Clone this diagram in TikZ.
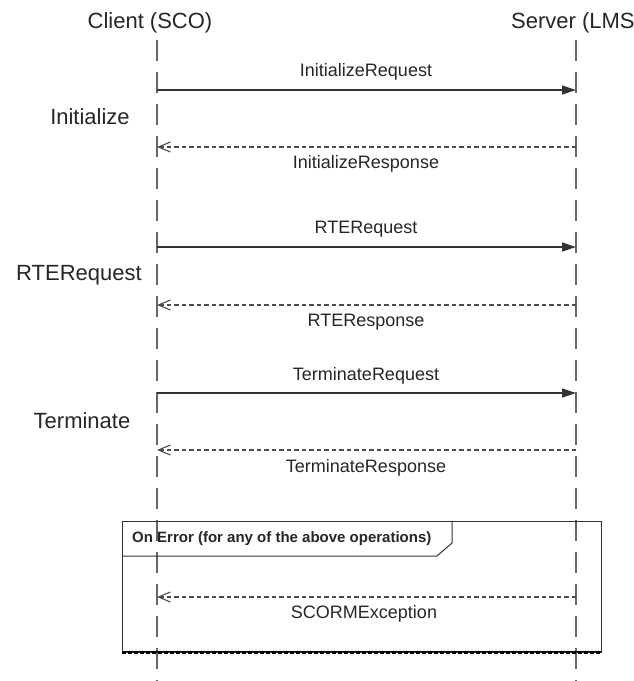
\documentclass[tikz,border=0pt]{standalone}
\usepackage{fontspec}
\setmainfont{Liberation Sans}
\usetikzlibrary{arrows.meta}
\begin{document}
\begin{tikzpicture}[x=1pt,y=-1pt,
  lifeline/.style={draw=black!60, line width=1.4pt, dash pattern=on 21pt off 11pt},
  req/.style={draw=black!80, line width=1.3pt, -{Triangle[length=14pt,width=9pt]}},
  resp/.style={draw=black!70, line width=1.1pt, dash pattern=on 4.5pt off 3pt,
     -{Straight Barb[length=12pt,width=10pt,line width=1.1pt]}},
  title/.style={inner sep=0pt, anchor=base, font=\fontsize{22}{26}\selectfont, text=black!85},
  side/.style={inner sep=0pt, font=\fontsize{22}{26}\selectfont, text=black!85},
  msg/.style={inner sep=0pt, font=\fontsize{18}{21}\selectfont, text=black!85},
  frame/.style={draw=black!80, line width=1pt},
  fragtitle/.style={inner sep=0pt, anchor=west, font=\bfseries\fontsize{15}{18}\selectfont, text=black!85}
]
\useasboundingbox (0,0) rectangle (633,681);
\clip (0,0) rectangle (633,681);

% participants
\node[title] (tclient) at (150,28) {Client (SCO)};
\node[title, anchor=base west] (tserver) at (511,28) {Server (LMS};

\coordinate (ctop) at (157,40);
\coordinate (cbot) at (157,681);
\coordinate (stop) at (576,40);
\coordinate (sbot) at (576,681);
\draw[lifeline] (ctop) -- (cbot);
\draw[lifeline] (stop) -- (sbot);

% message endpoints
\coordinate (c1) at (157,90);  \coordinate (s1) at (576,90);
\coordinate (c2) at (157,147); \coordinate (s2) at (576,147);
\coordinate (c3) at (157,247); \coordinate (s3) at (576,247);
\coordinate (c4) at (157,305); \coordinate (s4) at (576,305);
\coordinate (c5) at (157,393); \coordinate (s5) at (576,393);
\coordinate (c6) at (157,450); \coordinate (s6) at (576,450);
\coordinate (c7) at (157,597); \coordinate (s7) at (576,597);

\draw[req] (c1) -- (s1);
\draw[resp] (s2) -- (c2);
\draw[req] (c3) -- (s3);
\draw[resp] (s4) -- (c4);
\draw[req] (c5) -- (s5);
\draw[resp] (s6) -- (c6);
\draw[resp] (s7) -- (c7);

\node[msg] (l1) at (366,72) {InitializeRequest};
\node[msg] (l2) at (366,164) {InitializeResponse};
\node[msg] (l3) at (366,229) {RTERequest};
\node[msg] (l4) at (366,322) {RTEResponse};
\node[msg] (l5) at (366,376) {TerminateRequest};
\node[msg] (l6) at (366,468) {TerminateResponse};
\node[msg] (l7) at (364,614) {SCORMException};

% side labels
\node[side] (sInit) at (90,117) {Initialize};
\node[side] (sRTE) at (79,275) {RTERequest};
\node[side] (sTerm) at (82,421) {Terminate};

% fragment
\draw[frame] (122,521) rectangle (601,652);
\draw[frame] (122,556) -- (437,556) -- (452,543) -- (452,521);
\node[fragtitle] (ftitle) at (132,539) {On Error (for any of the above operations)};
\draw[draw=black, line width=1pt] (122,651.5) -- (601,651.5);
\draw[draw=black, line width=1.6pt, dash pattern=on 4pt off 2pt] (122,653) -- (601,653);
\end{tikzpicture}
\end{document}
